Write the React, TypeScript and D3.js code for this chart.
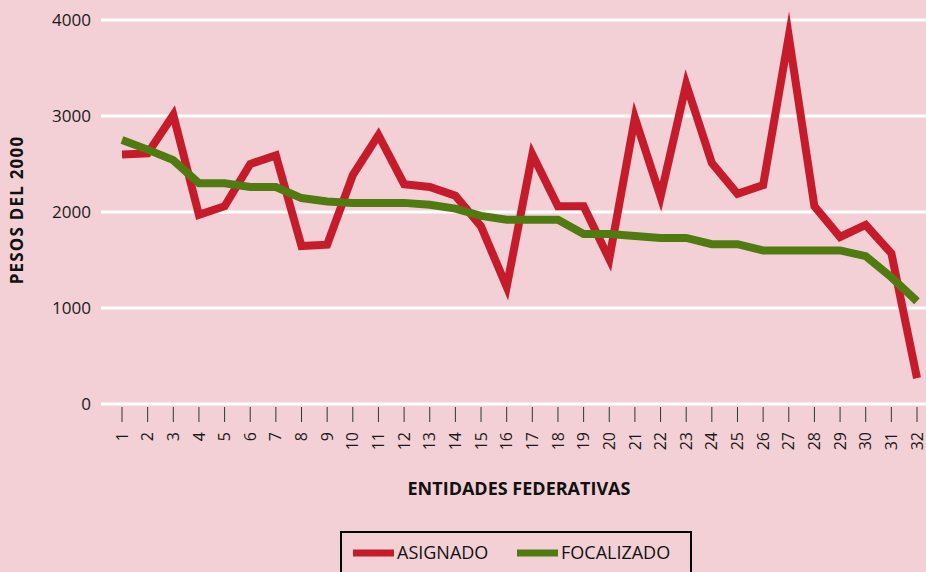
import React, { useEffect, useRef } from 'react';
import * as d3 from 'd3';

const entidades = Array.from({ length: 32 }, (_, i) => String(i + 1));

const asignado = [2600, 2610, 3010, 1970, 2060, 2500, 2590, 1645, 1660, 2385, 2800, 2290,
    2260, 2170, 1850, 1220, 2600, 2060, 2060, 1510, 2980, 2160, 3330, 2510, 2190, 2280,
    3830, 2060, 1740, 1865, 1570, 270];

const focalizado = [2750, 2650, 2540, 2300, 2300, 2260, 2260, 2145, 2110, 2095, 2095, 2095,
    2075, 2035, 1960, 1920, 1920, 1920, 1770, 1770, 1750, 1730, 1730, 1665, 1665, 1600,
    1600, 1600, 1600, 1540, 1320, 1070];

const yTicks = [0, 1000, 2000, 3000, 4000];

const series = [
    { name: 'ASIGNADO', values: asignado, color: '#c51b2b' },
    { name: 'FOCALIZADO', values: focalizado, color: '#4f7b10' },
];

const W = 926;
const H = 572;
const FONT = "'Open Sans', 'Noto Sans', sans-serif";

const LineChart: React.FC = () => {
    const svgRef = useRef<SVGSVGElement>(null);

    useEffect(() => {
        const svg = d3.select(svgRef.current);
        svg.selectAll('*').remove();

        svg.append('rect').attr('width', W).attr('height', H).attr('fill', '#f3d0d5');

        const x = d3.scalePoint<string>().domain(entidades).range([122, 917]);
        const y = d3.scaleLinear().domain([0, 4000]).range([404, 20]);

        // gridlines
        svg.append('g')
            .selectAll('line')
            .data(yTicks)
            .enter().append('line')
            .attr('x1', 101).attr('x2', W)
            .attr('y1', d => y(d)).attr('y2', d => y(d))
            .attr('stroke', '#fff').attr('stroke-width', 3);

        // y labels
        svg.append('g')
            .selectAll('text')
            .data(yTicks)
            .enter().append('text')
            .attr('x', 91).attr('y', d => y(d))
            .attr('dy', '0.35em')
            .attr('text-anchor', 'end')
            .attr('font-family', FONT).attr('font-size', 17).attr('fill', '#1a1a1a')
            .text(d => String(d));

        // x ticks + labels
        const xg = svg.append('g');
        xg.selectAll('line')
            .data(entidades)
            .enter().append('line')
            .attr('x1', d => x(d) || 0).attr('x2', d => x(d) || 0)
            .attr('y1', 407).attr('y2', 422)
            .attr('stroke', '#333').attr('stroke-width', 1);
        xg.selectAll('text')
            .data(entidades)
            .enter().append('text')
            .attr('transform', d => `translate(${x(d)},432) rotate(-90)`)
            .attr('dy', '0.35em')
            .attr('text-anchor', 'end')
            .attr('font-family', FONT).attr('font-size', 16).attr('fill', '#1a1a1a')
            .text(d => d);

        // axis titles
        svg.append('text')
            .attr('transform', 'translate(23,210) rotate(-90)')
            .attr('text-anchor', 'middle')
            .attr('font-family', FONT).attr('font-size', 17).attr('font-weight', 'bold')
            .attr('letter-spacing', 1.2).attr('fill', '#111')
            .text('PESOS DEL 2000');

        svg.append('text')
            .attr('x', 519).attr('y', 495)
            .attr('text-anchor', 'middle')
            .attr('font-family', FONT).attr('font-size', 18).attr('font-weight', 'bold')
            .attr('fill', '#111')
            .text('ENTIDADES FEDERATIVAS');

        // lines
        const line = d3.line<number>()
            .x((d, i) => x(entidades[i]) || 0)
            .y(d => y(d));

        svg.append('g')
            .selectAll('path')
            .data(series)
            .enter().append('path')
            .attr('d', d => line(d.values))
            .attr('fill', 'none')
            .attr('stroke', d => d.color)
            .attr('stroke-width', 8)
            .attr('stroke-linejoin', 'miter')
            .attr('stroke-miterlimit', 10);

        // legend
        const lg = svg.append('g');
        lg.append('rect')
            .attr('x', 341).attr('y', 532).attr('width', 350).attr('height', 60)
            .attr('fill', 'none').attr('stroke', '#000').attr('stroke-width', 2);
        const items = lg.selectAll('g')
            .data(series)
            .enter().append('g')
            .attr('transform', (d, i) => `translate(${i === 0 ? 353 : 517},553)`);
        items.append('line')
            .attr('x1', 0).attr('x2', 41).attr('y1', 0).attr('y2', 0)
            .attr('stroke', d => d.color).attr('stroke-width', 7);
        items.append('text')
            .attr('x', 44).attr('dy', '0.35em')
            .attr('font-family', FONT).attr('font-size', 18).attr('fill', '#111')
            .text(d => d.name);
    }, []);

    return <svg ref={svgRef} width={W} height={H} style={{ display: 'block' }}></svg>;
};

export default function App() {
    return (
        <div style={{ position: 'fixed', left: 0, top: 0, width: W, height: H, overflow: 'hidden' }}>
            <LineChart />
        </div>
    );
}
